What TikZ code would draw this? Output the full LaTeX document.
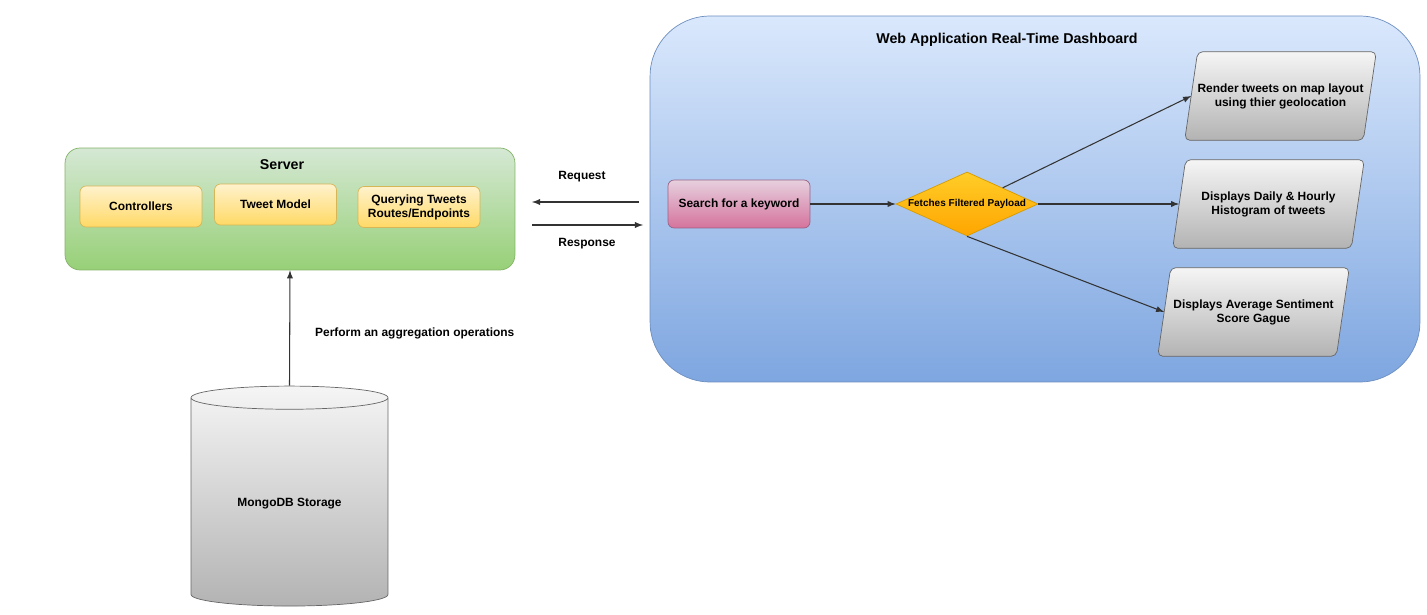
\documentclass[tikz,border=0pt]{standalone}
\usepackage{fontspec}
\setmainfont{Liberation Sans}
\usepackage{tikz}
\usetikzlibrary{shapes.geometric,positioning,arrows}
\definecolor{dashtop}{HTML}{DAE8FC}
\definecolor{dashbot}{HTML}{7EA6E0}
\definecolor{dashline}{HTML}{6C8EBF}
\definecolor{servtop}{HTML}{D5E8D4}
\definecolor{servbot}{HTML}{97D077}
\definecolor{servline}{HTML}{82B366}
\definecolor{parttop}{HTML}{FFF2CC}
\definecolor{partbot}{HTML}{FFD966}
\definecolor{partline}{HTML}{D6B656}
\definecolor{searchtop}{HTML}{E6D0DE}
\definecolor{searchbot}{HTML}{D5739D}
\definecolor{searchline}{HTML}{996185}
\definecolor{fetchtop}{HTML}{FFCD28}
\definecolor{fetchbot}{HTML}{FFA500}
\definecolor{fetchline}{HTML}{D79B00}
\definecolor{greytop}{HTML}{F5F5F5}
\definecolor{greybot}{HTML}{B3B3B3}
\definecolor{greyline}{HTML}{666666}
\pgfdeclarelayer{background}
\pgfsetlayers{background,main}

\begin{document}
\begin{tikzpicture}[x=0.02cm, y=-0.02cm]

		\tikzset{
			boldtext/.style={font=\bfseries\fontsize{6.8}{8}\selectfont, align=center},
			titletext/.style={font=\bfseries\fontsize{8.1}{9.5}\selectfont},
			partbox/.style={boldtext, draw=partline, top color=parttop, bottom color=partbot,
				rounded corners=0.12cm, minimum width=2.44cm, minimum height=0.82cm},
			viewbox/.style={boldtext, minimum width=3.56cm, minimum height=1.76cm, inner sep=1pt},
			viewshape/.style={draw=greyline, top color=greytop, bottom color=greybot, rounded corners=3pt},
			flow/.style={draw=black!80, line width=0.6pt, -latex}
		}

		\useasboundingbox (0,0) rectangle (1427,615);

		% containers

		\begin{pgfonlayer}{background}
			\node (dashbox) [draw=dashline, top color=dashtop, bottom color=dashbot, rounded corners=1.2cm,
				minimum width=15.4cm, minimum height=7.32cm] at (1035,199) {};
			\node (serverbox) [draw=servline, top color=servtop, bottom color=servbot, rounded corners=0.3cm,
				minimum width=9cm, minimum height=2.44cm] at (290,209) {};
		\end{pgfonlayer}
		\node (dashtitle) [titletext] at (1007,40) {Web Application Real-Time Dashboard};
		\node (servertitle) [titletext] at (282,165) {Server};

		% server parts

		\node (controllers) [partbox] at (141,206.5) {Controllers};
		\node (tweetmodel) [partbox] at (275.5,204.5) {Tweet Model};
		\node (routes) [partbox] at (419,207) {Querying Tweets\\Routes/Endpoints};

		% storage

		\node (mongo) [boldtext, cylinder, shape border rotate=90, aspect=0.2, draw=greyline,
			top color=greytop, bottom color=greybot, minimum width=3.94cm, minimum height=4.4cm]
			at (289.5,504) {MongoDB Storage};
		\draw[flow] (mongo.north) -- (serverbox.south);
		\node (aggregate) [boldtext, anchor=west] at (309,333) {Perform an aggregation operations};

		% request and response

		\coordinate (reqstart) at (639,202);
		\coordinate (reqend) at (532,202);
		\coordinate (resstart) at (532,225);
		\coordinate (resend) at (643,225);
		\draw[flow] (reqstart) -- (reqend);
		\draw[flow] (resstart) -- (resend);
		\node (request) [boldtext] at (582,177) {Request};
		\node (response) [boldtext] at (587,244) {Response};

		% dashboard flow

		\node (search) [boldtext, draw=searchline, top color=searchtop, bottom color=searchbot,
			rounded corners=0.12cm, minimum width=2.84cm, minimum height=0.96cm] at (739,204) {Search for a keyword};

		\node (fetch) [font=\bfseries\fontsize{5.7}{7}\selectfont, diamond, aspect=2.2, inner sep=0pt, draw=fetchline,
			top color=fetchtop, bottom color=fetchbot, minimum width=2.84cm, minimum height=1.28cm]
			at (967,204) {Fetches Filtered Payload};

		\node (mapview) [viewbox] at (1280.5,96) {Render tweets on map layout\\using thier geolocation};
		\node (histview) [viewbox] at (1268.5,204) {Displays Daily \& Hourly\\Histogram of tweets};
		\node (gaugeview) [viewbox] at (1253.5,312) {Displays Average Sentiment\\Score Gague};

		% slanted boxes behind the views
		\begin{pgfonlayer}{background}
			\foreach \view in {mapview,histview,gaugeview}
				\path[viewshape] ([xshift=0.13cm]\view.north west) -- ([xshift=0.13cm]\view.north east)
					-- ([xshift=-0.13cm]\view.south east) -- ([xshift=-0.13cm]\view.south west) -- cycle;
		\end{pgfonlayer}

		\draw[flow] (search) -- (fetch);
		\draw[flow] (fetch.north east) -- (mapview.west);
		\draw[flow] (fetch.east) -- (histview.west);
		\draw[flow] (fetch.south) -- (gaugeview.west);

\end{tikzpicture}
\end{document}
